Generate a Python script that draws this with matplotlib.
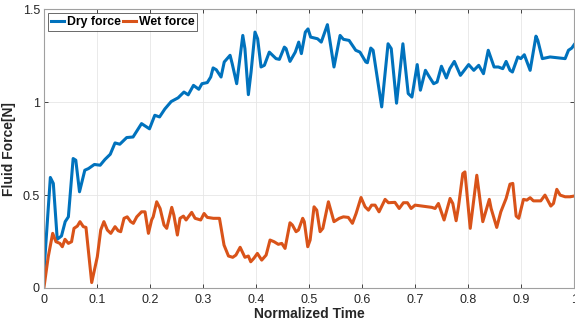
import matplotlib
matplotlib.use("Agg")
import matplotlib.pyplot as plt

# values
dry_t = [0, 0.012, 0.0176, 0.025, 0.033, 0.040, 0.046, 0.055, 0.060, 0.067,
         0.077, 0.084, 0.095, 0.106, 0.115, 0.125, 0.134, 0.143, 0.156, 0.168,
         0.184, 0.199, 0.209, 0.218, 0.228, 0.240, 0.253, 0.264, 0.272, 0.282,
         0.292, 0.298, 0.308, 0.3145, 0.319, 0.325, 0.334, 0.340, 0.351, 0.355,
         0.3635, 0.375, 0.379, 0.3855, 0.3906, 0.398, 0.403, 0.4094, 0.4157, 0.425,
         0.4377, 0.444, 0.4534, 0.4566, 0.464, 0.474, 0.4805, 0.4855, 0.493, 0.498,
         0.503, 0.516, 0.523, 0.5346, 0.547, 0.5585, 0.5648, 0.5755, 0.588, 0.596,
         0.607, 0.61, 0.6164, 0.6208, 0.637, 0.649, 0.655, 0.665, 0.677, 0.687,
         0.694, 0.704, 0.710, 0.7195, 0.727, 0.735, 0.7415, 0.7497, 0.759, 0.7655,
         0.774, 0.7855, 0.801, 0.8107, 0.82, 0.829, 0.838, 0.849, 0.857, 0.8654,
         0.8717, 0.879, 0.8836, 0.8937, 0.8994, 0.906, 0.917, 0.928, 0.9315, 0.940,
         0.9547, 0.983, 0.9893, 0.9956, 1.0]
dry_force = [0.09, 0.595, 0.563, 0.262, 0.28, 0.357, 0.383, 0.697, 0.688, 0.518,
             0.634, 0.643, 0.665, 0.661, 0.692, 0.72, 0.781, 0.774, 0.81, 0.813,
             0.885, 0.857, 0.93, 0.921, 0.964, 1.004, 1.024, 1.055, 1.04, 1.091,
             1.07, 1.10, 1.106, 1.136, 1.185, 1.175, 1.136, 1.217, 1.253, 1.208,
             1.10, 1.36, 1.289, 1.041, 1.163, 1.378, 1.342, 1.19, 1.199, 1.27,
             1.235, 1.231, 1.297, 1.289, 1.22, 1.27, 1.324, 1.262, 1.378, 1.395,
             1.351, 1.342, 1.324, 1.418, 1.19, 1.36, 1.339, 1.333, 1.28, 1.27,
             1.217, 1.213, 1.292, 1.28, 0.975, 1.315, 1.289, 0.995, 1.315, 1.047,
             1.028, 1.203, 1.065, 1.172, 1.136, 1.10, 1.109, 1.194, 1.131, 1.181,
             1.22, 1.145, 1.203, 1.172, 1.199, 1.154, 1.28, 1.19, 1.19, 1.181,
             1.22, 1.172, 1.163, 1.244, 1.235, 1.256, 1.172, 1.356, 1.333, 1.235,
             1.244, 1.235, 1.28, 1.292, 1.31]

wet_t = [0, 0.008, 0.0164, 0.0226, 0.030, 0.0346, 0.0396, 0.046, 0.052, 0.0566,
         0.0629, 0.0679, 0.0742, 0.0792, 0.090, 0.1006, 0.107, 0.113, 0.1195, 0.126,
         0.134, 0.140, 0.1447, 0.151, 0.157, 0.1635, 0.1685, 0.175, 0.184, 0.1906,
         0.197, 0.203, 0.206, 0.2126, 0.219, 0.2264, 0.2315, 0.241, 0.245, 0.2516,
         0.2566, 0.263, 0.268, 0.2786, 0.285, 0.2956, 0.302, 0.308, 0.3195, 0.331,
         0.3396, 0.348, 0.356, 0.362, 0.370, 0.379, 0.3855, 0.390, 0.396, 0.4025,
         0.4107, 0.419, 0.4264, 0.434, 0.442, 0.4485, 0.4547, 0.464, 0.4685, 0.4755,
         0.480, 0.488, 0.491, 0.4975, 0.502, 0.5094, 0.5145, 0.5208, 0.526, 0.5365,
         0.547, 0.557, 0.5648, 0.574, 0.5818, 0.5887, 0.598, 0.6057, 0.612, 0.618,
         0.6245, 0.632, 0.6434, 0.6497, 0.662, 0.670, 0.678, 0.6855, 0.6925, 0.700,
         0.7126, 0.7315, 0.7377, 0.744, 0.7547, 0.766, 0.7711, 0.7774, 0.7818, 0.790,
         0.794, 0.804, 0.8164, 0.8277, 0.840, 0.8434, 0.854, 0.8617, 0.8717, 0.879,
         0.8843, 0.8906, 0.8956, 0.9044, 0.9107, 0.917, 0.9232, 0.937, 0.945, 0.956,
         0.961, 0.9673, 0.9736, 0.983, 0.9925, 1.0]
wet_force = [0.004, 0.168, 0.294, 0.249, 0.24, 0.222, 0.262, 0.24, 0.249, 0.321,
             0.333, 0.357, 0.33, 0.326, 0.029, 0.168, 0.312, 0.357, 0.312, 0.294,
             0.33, 0.308, 0.303, 0.375, 0.383, 0.357, 0.348, 0.383, 0.41, 0.41,
             0.294, 0.366, 0.383, 0.464, 0.428, 0.339, 0.321, 0.434, 0.392, 0.285,
             0.375, 0.387, 0.366, 0.407, 0.375, 0.366, 0.401, 0.38, 0.375, 0.375,
             0.231, 0.172, 0.165, 0.177, 0.219, 0.165, 0.172, 0.141, 0.16, 0.186,
             0.15, 0.177, 0.258, 0.249, 0.235, 0.24, 0.213, 0.351, 0.339, 0.303,
             0.312, 0.375, 0.357, 0.222, 0.258, 0.437, 0.419, 0.303, 0.321, 0.464,
             0.357, 0.375, 0.383, 0.38, 0.348, 0.401, 0.487, 0.437, 0.419, 0.446,
             0.446, 0.41, 0.477, 0.459, 0.461, 0.428, 0.459, 0.459, 0.428, 0.446,
             0.441, 0.434, 0.428, 0.455, 0.366, 0.482, 0.455, 0.362, 0.437, 0.616,
             0.625, 0.321, 0.607, 0.357, 0.477, 0.428, 0.326, 0.41, 0.482, 0.559,
             0.563, 0.387, 0.375, 0.477, 0.473, 0.486, 0.469, 0.469, 0.5, 0.441,
             0.455, 0.531, 0.5, 0.491, 0.491, 0.495]

x_ticks = [0, 0.1, 0.2, 0.3, 0.4, 0.5, 0.6, 0.7, 0.8, 0.9, 1]
x_labels = ['0', '0.1', '0.2', '0.3', '0.4', '0.5', '0.6', '0.7', '0.8', '0.9', '1']
y_ticks = [0, 0.5, 1, 1.5]
y_labels = ['0', '0.5', '1', '1.5']

plt.rcParams['font.family'] = ['Liberation Sans', 'DejaVu Sans']

fig = plt.figure(figsize=(5.75, 3.25), dpi=100)
ax = fig.add_axes([0.0765, 0.114, 0.922, 0.857])

ax.plot(dry_t, dry_force, color='#0072BD', lw=2.2, label='Dry force')
ax.plot(wet_t, wet_force, color='#D95319', lw=2.2, label='Wet force')

ax.set_xlim(0, 1)
ax.set_ylim(0, 1.5)
ax.set_xticks(x_ticks)
ax.set_xticklabels(x_labels)
ax.set_yticks(y_ticks)
ax.set_yticklabels(y_labels)
ax.tick_params(direction='in', length=3, width=0.6, colors='#262626',
               labelsize=9, top=True, right=True, pad=3)
ax.tick_params(axis='x', pad=4)
ax.grid(True, color='#e6e6e6', lw=0.6)
ax.set_axisbelow(True)
for s in ax.spines.values():
    s.set_color('#a0a0a0')
    s.set_linewidth(0.8)

ax.set_xlabel('Normalized Time', fontsize=10, fontweight='bold', color='#262626', labelpad=1)
ax.set_ylabel('Fluid Force[N]', fontsize=10, fontweight='bold', color='#262626')
ax.yaxis.set_label_coords(-0.052, 0.5)

leg = ax.legend(loc='upper left', ncol=2, fancybox=False, handlelength=1.1,
                handletextpad=0.2, columnspacing=0.2, borderpad=0.25,
                borderaxespad=0.3, prop={'weight': 'bold', 'size': 8.8})
leg.get_frame().set_edgecolor('#262626')
leg.get_frame().set_linewidth(0.6)

fig.savefig('out.png', dpi=100)
